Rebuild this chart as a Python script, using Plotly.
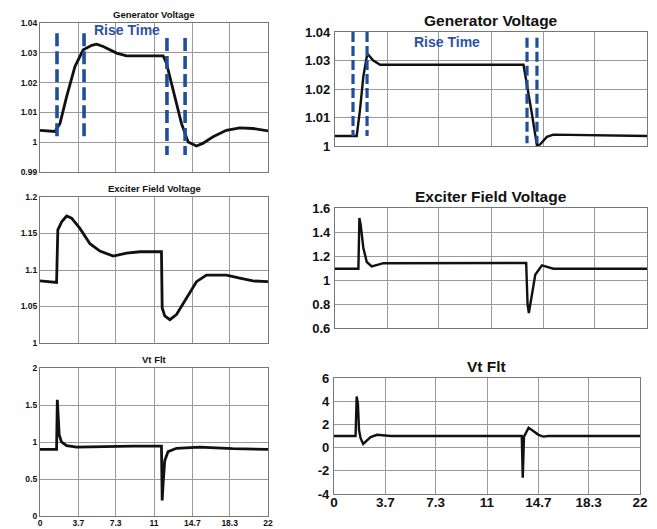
import plotly.graph_objects as go

# ---------------- data ----------------
x_tick_vals = [0, 3.7, 7.3, 11, 14.7, 18.3, 22]
x_tick_text = ["0", "3.7", "7.3", "11", "14.7", "18.3", "22"]

# Left column (slower response)
gen_l_x = [0, 1.45, 1.93, 2.57, 3.37, 4.17, 5.0, 5.46, 6.1, 7.39, 8.35, 11.88, 12.2, 12.85, 13.65, 14.29, 15.1, 15.7, 16.7, 17.98, 19.27, 20.55, 22]
gen_l_y = [1.004, 1.0036, 1.0063, 1.0153, 1.0254, 1.031, 1.0325, 1.0329, 1.0321, 1.0299, 1.029, 1.029, 1.0265, 1.0175, 1.0063, 1.0001, 0.9987, 0.9996, 1.0018, 1.004, 1.0048, 1.0046, 1.0038]

exc_l_x = [0, 1.6, 1.72, 2.09, 2.57, 3.05, 3.85, 4.82, 5.78, 7.07, 8.35, 9.64, 11.72, 11.79, 12.04, 12.53, 13.17, 14.13, 15.1, 16.06, 17.99, 19.27, 20.55, 22]
exc_l_y = [1.085, 1.083, 1.155, 1.166, 1.174, 1.171, 1.157, 1.136, 1.126, 1.119, 1.123, 1.125, 1.125, 1.048, 1.037, 1.032, 1.039, 1.061, 1.084, 1.093, 1.093, 1.089, 1.085, 1.084]

vt_l_x = [0, 1.6, 1.67, 1.75, 1.85, 2.07, 2.57, 3.53, 6.4, 8.99, 11.72, 11.79, 11.88, 12.04, 12.36, 13.17, 15.4, 18.6, 22]
vt_l_y = [0.90, 0.90, 1.57, 1.37, 1.10, 1.00, 0.95, 0.93, 0.94, 0.945, 0.945, 0.21, 0.44, 0.75, 0.87, 0.915, 0.93, 0.91, 0.90]

# Right column (faster response)
gen_r_x = [0, 1.53, 1.76, 2.0, 2.24, 2.35, 2.7, 3.18, 13.29, 13.65, 13.88, 14.24, 14.47, 14.94, 15.4, 22]
gen_r_y = [1.0035, 1.0035, 1.0126, 1.0244, 1.0314, 1.032, 1.030, 1.0285, 1.0285, 1.0185, 1.0114, 1.0002, 1.0006, 1.0032, 1.004, 1.0035]

exc_r_x = [0, 1.65, 1.72, 1.81, 2.0, 2.24, 2.59, 3.06, 3.42, 13.48, 13.58, 13.67, 13.81, 14.12, 14.59, 15.06, 15.4, 22]
exc_r_y = [1.094, 1.094, 1.517, 1.46, 1.267, 1.15, 1.114, 1.128, 1.14, 1.142, 0.794, 0.725, 0.822, 1.044, 1.122, 1.108, 1.094, 1.094]

vt_r_x = [0, 1.55, 1.63, 1.72, 1.8, 1.91, 2.1, 2.27, 2.63, 3.1, 4.07, 13.5, 13.57, 13.66, 13.99, 14.35, 14.7, 15.06, 15.4, 22]
vt_r_y = [1.0, 1.0, 4.4, 3.8, 1.5, 0.81, 0.32, 0.52, 0.9, 1.1, 1.0, 1.0, -2.6, 0.95, 1.7, 1.4, 1.1, 0.95, 1.0, 1.0]

# Rise-time markers (x position, y bottom, y top)
rise_l_x = [1.64, 4.25, 12.25, 14.0]
rise_l_y0 = [1.0007, 1.0007, 0.9957, 0.9957]
rise_l_y1 = [1.0366, 1.0366, 1.035, 1.035]
rise_r_x = [1.27, 2.26, 13.54, 14.24]
rise_r_y0 = [1.0035, 1.0035, 1.001, 1.001]
rise_r_y1 = [1.04, 1.04, 1.038, 1.038]

# y ticks
gen_l_ticks = [0.99, 1.0, 1.01, 1.02, 1.03, 1.04]
exc_l_ticks = [1.0, 1.05, 1.1, 1.15, 1.2]
vt_l_ticks = [0, 0.5, 1, 1.5, 2]
gen_r_ticks = [1.0, 1.01, 1.02, 1.03, 1.04]
exc_r_ticks = [0.6, 0.8, 1.0, 1.2, 1.4, 1.6]
vt_r_ticks = [-4, -2, 0, 2, 4, 6]

titles = ["Generator Voltage", "Exciter Field Voltage", "Vt Flt"]

# ---------------- figure ----------------
W, H = 657, 529
def px_x(a, b):
    return [a / W, b / W]
def px_y(top, bottom):
    return [1 - bottom / H, 1 - top / H]

panels = [
    (gen_l_x, gen_l_y, gen_l_ticks, [0.99, 1.04], px_x(40, 268), px_y(23, 172), True, False),
    (exc_l_x, exc_l_y, exc_l_ticks, [1.0, 1.2], px_x(40, 268), px_y(197, 343), True, False),
    (vt_l_x, vt_l_y, vt_l_ticks, [0, 2], px_x(40, 268), px_y(368, 516), True, True),
    (gen_r_x, gen_r_y, gen_r_ticks, [1.0, 1.04], px_x(335, 647), px_y(32, 146), False, False),
    (exc_r_x, exc_r_y, exc_r_ticks, [0.6, 1.6], px_x(335, 647), px_y(208, 328), False, False),
    (vt_r_x, vt_r_y, vt_r_ticks, [-4, 6], px_x(334, 640), px_y(378, 494), False, True),
]

fig = go.Figure()
layout = dict(
    width=W, height=H, margin=dict(l=0, r=0, t=0, b=0, autoexpand=False),
    paper_bgcolor="white", plot_bgcolor="white", showlegend=False,
    font=dict(family="Liberation Sans", color="#111"),
)
annotations = []

for i, (xs, ys, ticks, yr, xd, yd, left, showx) in enumerate(panels):
    n = i + 1
    xa = "x" if n == 1 else f"x{n}"
    ya = "y" if n == 1 else f"y{n}"
    fy = 8.5 if left else 13
    fx = 8.5 if left else 13.5
    fig.add_trace(go.Scatter(x=xs, y=ys, mode="lines", xaxis=xa, yaxis=ya,
                             line=dict(color="#111", width=2.8 if left else 2.4),
                             hoverinfo="skip"))
    layout["xaxis" if n == 1 else f"xaxis{n}"] = dict(
        domain=xd, anchor=ya, range=[0, 22], tickvals=x_tick_vals,
        ticktext=x_tick_text, showticklabels=showx, ticks="",
        showgrid=True, gridcolor="#9a9a9a", gridwidth=1, zeroline=False,
        showline=True, linecolor="#777", linewidth=1.2, mirror=True,
        automargin=False, ticklabelstandoff=(-1 if left else -4),
        tickfont=dict(size=fx, weight="bold"),
    )
    layout["yaxis" if n == 1 else f"yaxis{n}"] = dict(
        domain=yd, anchor=xa, range=yr, tickvals=ticks,
        ticktext=[f"{t:g}" for t in ticks], ticks="",
        showgrid=True, gridcolor="#9a9a9a", gridwidth=1, zeroline=False,
        showline=True, linecolor="#777", linewidth=1.2, mirror=True,
        automargin=False, ticklabelstandoff=(0 if left else 1),
        tickfont=dict(size=fy, weight="bold"),
    )
    annotations.append(dict(
        text=titles[i % 3], xref="paper", yref="paper",
        x=(xd[0] + xd[1]) / 2, y=yd[1], xanchor="center", yanchor="bottom",
        yshift=1 if left else 1, showarrow=False,
        font=dict(size=9.5 if left else 15.5, weight="bold", color="#111"),
    ))

# rise-time dashed markers
for xs, y0s, y1s, xa, ya, dsh, wd in [
        (rise_l_x, rise_l_y0, rise_l_y1, "x", "y", "13px,5px", 3.6),
        (rise_r_x, rise_r_y0, rise_r_y1, "x4", "y4", "10px,4px", 3.2)]:
    for xv, a, b in zip(xs, y0s, y1s):
        fig.add_trace(go.Scatter(x=[xv, xv], y=[b, a], mode="lines", xaxis=xa, yaxis=ya,
                                 line=dict(color="#1f4e9c", width=wd, dash=dsh),
                                 hoverinfo="skip"))

annotations.append(dict(text="Rise Time", xref="x", yref="y", x=8.4, y=1.0375,
                        showarrow=False, xanchor="center", yanchor="middle",
                        font=dict(size=14, weight="bold", color="#2a52a8")))
annotations.append(dict(text="Rise Time", xref="x4", yref="y4", x=7.9, y=1.0365,
                        showarrow=False, xanchor="center", yanchor="middle",
                        font=dict(size=14, weight="bold", color="#2a52a8")))

layout["annotations"] = annotations
fig.update_layout(**layout)
fig.write_html("out.html", config={"displayModeBar": False},
               post_script="document.body.style.margin='0';document.body.style.overflow='hidden';")
